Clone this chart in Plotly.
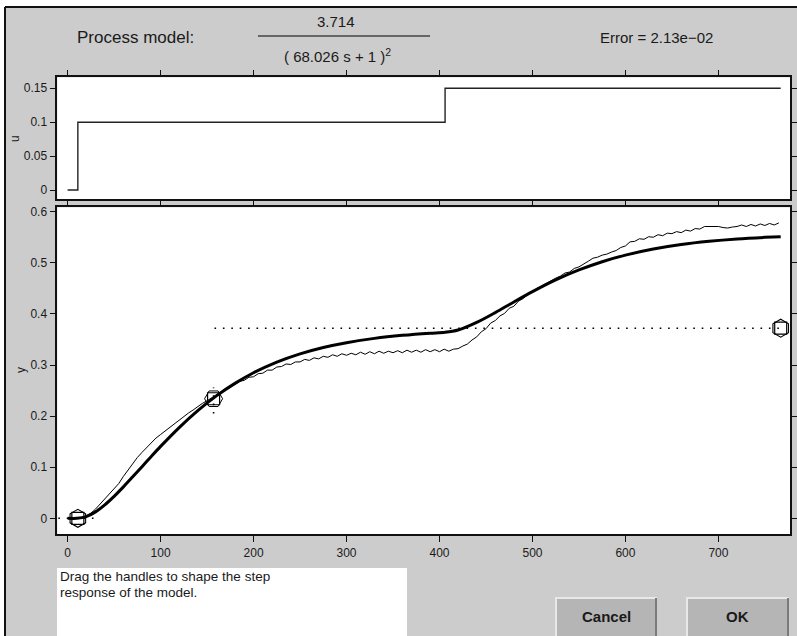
import plotly.graph_objects as go

# ---------------- data ----------------
u_t = [0, 11, 406, 767]
u_v = [0.0, 0.1, 0.15, 0.15]

model_t = [0, 10, 20, 30, 40, 50, 60, 70, 80, 90, 100, 120, 140, 160, 180, 200, 225, 250,
           275, 300, 330, 360, 390, 406, 420, 440, 460, 480, 500, 525, 550, 575, 600, 630,
           660, 690, 720, 750, 767]
model_y = [0, 0, 0.0033, 0.0126, 0.0263, 0.0429, 0.0615, 0.0811, 0.1011, 0.1211, 0.1407,
           0.1776, 0.2107, 0.2396, 0.2641, 0.2848, 0.3056, 0.3218, 0.3343, 0.3437, 0.3521,
           0.3580, 0.3622, 0.3639, 0.3684, 0.3833, 0.4026, 0.4234, 0.4436, 0.4666, 0.4860,
           0.5021, 0.5150, 0.5269, 0.5357, 0.5420, 0.5466, 0.5498, 0.5512]

meas_t = list(range(0, 770, 5))
meas_y = [
    0, 0, 0, 0.001, 0.005, 0.010, 0.018, 0.028, 0.037, 0.046,
    0.057, 0.068, 0.082, 0.095, 0.107, 0.119, 0.129, 0.139, 0.149, 0.157,
    0.164, 0.171, 0.179, 0.186, 0.193, 0.199, 0.206, 0.212, 0.219, 0.225,
    0.230, 0.236, 0.241, 0.247, 0.253, 0.258, 0.262, 0.268, 0.270, 0.276,
    0.277, 0.283, 0.284, 0.290, 0.290, 0.296, 0.297, 0.302, 0.301, 0.306,
    0.306, 0.311, 0.309, 0.314, 0.312, 0.317, 0.315, 0.320, 0.317, 0.322,
    0.319, 0.323, 0.320, 0.325, 0.321, 0.326, 0.322, 0.327, 0.323, 0.327,
    0.324, 0.328, 0.324, 0.329, 0.325, 0.329, 0.325, 0.330, 0.326, 0.330,
    0.326, 0.331, 0.327, 0.331, 0.332, 0.337, 0.341, 0.349, 0.355, 0.365,
    0.371, 0.382, 0.387, 0.396, 0.401, 0.411, 0.415, 0.425, 0.430, 0.438,
    0.443, 0.450, 0.455, 0.461, 0.465, 0.470, 0.474, 0.480, 0.482, 0.489,
    0.492, 0.497, 0.503, 0.509, 0.511, 0.515, 0.517, 0.521, 0.524, 0.530,
    0.533, 0.541, 0.542, 0.547, 0.546, 0.551, 0.550, 0.555, 0.553, 0.558,
    0.557, 0.561, 0.559, 0.564, 0.562, 0.567, 0.566, 0.571, 0.571, 0.572,
    0.571, 0.569, 0.568, 0.570, 0.571, 0.574, 0.571, 0.575, 0.572, 0.576,
    0.573, 0.577, 0.574, 0.578,
]

handle_t = [11, 157, 767]
handle_y = [0.0, 0.234, 0.372]
guide0_t, guide0_y = [-10, 35], [0.0, 0.0]
guide1_t, guide1_y = [157, 157], [0.205, 0.256]
guide2_t, guide2_y = [158, 767], [0.372, 0.372]

x_ticks = [0, 100, 200, 300, 400, 500, 600, 700]
u_ticks = [0, 0.05, 0.1, 0.15]
u_ticktext = ["0", "0.05", "0.1", "0.15"]
y_ticks = [0, 0.1, 0.2, 0.3, 0.4, 0.5, 0.6]
y_ticktext = ["0", "0.1", "0.2", "0.3", "0.4", "0.5", "0.6"]

# ---------------- layout helpers ----------------
W, H = 797, 636
def PX(x):
    return x / W
def PY(y):
    return 1 - y / H

FONT = "Liberation Sans, Arial, Helvetica, sans-serif"
TXT = "#1a1a1a"
BG = "#cccccc"

fig = go.Figure()

# top plot (u)
fig.add_trace(go.Scatter(x=u_t, y=u_v, mode="lines", line=dict(color="#222", width=1.4, shape="hv"),
                         xaxis="x", yaxis="y", showlegend=False, hoverinfo="skip"))

# bottom plot (y)
dotstyle = dict(color="black", width=1.6, dash="1.6px,6.8px")
for gt, gy in [(guide0_t, guide0_y), (guide1_t, guide1_y), (guide2_t, guide2_y)]:
    fig.add_trace(go.Scatter(x=gt, y=gy, mode="lines", line=dotstyle,
                             xaxis="x2", yaxis="y2", showlegend=False, hoverinfo="skip"))
fig.add_trace(go.Scatter(x=meas_t, y=meas_y, mode="lines", line=dict(color="black", width=1),
                         xaxis="x2", yaxis="y2", showlegend=False, hoverinfo="skip"))
fig.add_trace(go.Scatter(x=model_t, y=model_y, mode="lines",
                         line=dict(color="black", width=3, shape="spline", smoothing=0.8),
                         xaxis="x2", yaxis="y2", showlegend=False, hoverinfo="skip"))
fig.add_trace(go.Scatter(x=[handle_t[0], handle_t[2]], y=[handle_y[0], handle_y[2]], mode="markers",
                         marker=dict(symbol="hexagon-open", size=18, color="black", line=dict(width=1.1)),
                         xaxis="x2", yaxis="y2", showlegend=False, hoverinfo="skip"))
fig.add_trace(go.Scatter(x=[handle_t[1]], y=[handle_y[1]], mode="markers",
                         marker=dict(symbol="hexagon2-open", size=18, color="black", line=dict(width=1.0)),
                         xaxis="x2", yaxis="y2", showlegend=False, hoverinfo="skip"))
fig.add_trace(go.Scatter(x=handle_t, y=handle_y, mode="markers",
                         marker=dict(symbol="square-open", size=12, color="black", line=dict(width=1.2)),
                         xaxis="x2", yaxis="y2", showlegend=False, hoverinfo="skip"))

xrange = [-11.1, 777]
axis_common = dict(showline=True, linecolor="#111", linewidth=1.6, mirror="ticks",
                   ticks="outside", ticklen=6, tickwidth=1.4, tickcolor="#111",
                   showgrid=False, zeroline=False, automargin=False,
                   tickfont=dict(family=FONT, size=12, color=TXT))

xd = [PX(57.3), PX(790)]
fig.update_layout(
    width=W, height=H,
    margin=dict(l=0, r=0, t=0, b=0),
    paper_bgcolor=BG, plot_bgcolor="white",
    font=dict(family=FONT, color=TXT),
    xaxis=dict(domain=xd, range=xrange, tickvals=x_ticks, showticklabels=False,
               anchor="y", **axis_common),
    yaxis=dict(domain=[PY(199.3), PY(77.3)], range=[-0.0137, 0.1662], tickvals=u_ticks,
               ticktext=u_ticktext, anchor="x", **axis_common),
    xaxis2=dict(domain=xd, range=xrange, tickvals=x_ticks, anchor="y2", **axis_common),
    yaxis2=dict(domain=[PY(534.3), PY(207.3)], range=[-0.0313, 0.6086], tickvals=y_ticks,
                ticktext=y_ticktext, anchor="x2", **axis_common),
)

shapes = []
# white outer strip and black frame
shapes.append(dict(type="rect", xref="paper", yref="paper", x0=0, x1=1, y0=PY(7), y1=1,
                   fillcolor="white", line=dict(width=0)))
shapes.append(dict(type="rect", xref="paper", yref="paper", x0=0, x1=PX(5), y0=0, y1=1,
                   fillcolor="white", line=dict(width=0)))
shapes.append(dict(type="line", xref="paper", yref="paper", x0=PX(5), x1=1, y0=PY(7), y1=PY(7),
                   line=dict(color="#111", width=2)))
shapes.append(dict(type="line", xref="paper", yref="paper", x0=PX(5), x1=PX(5), y0=0, y1=PY(7),
                   line=dict(color="#111", width=2)))
# fraction bar
shapes.append(dict(type="line", xref="paper", yref="paper", x0=PX(258), x1=PX(430), y0=PY(36), y1=PY(36),
                   line=dict(color="black", width=1)))
# message box
shapes.append(dict(type="rect", xref="paper", yref="paper", x0=PX(57), x1=PX(407), y0=0, y1=PY(568),
                   fillcolor="white", line=dict(width=0)))
# buttons
for bx0, bx1 in [(555, 657), (686, 789)]:
    shapes.append(dict(type="rect", xref="paper", yref="paper", x0=PX(bx0), x1=PX(bx1), y0=0, y1=PY(597),
                       fillcolor="#b5b5b5", line=dict(width=0)))
    shapes.append(dict(type="line", xref="paper", yref="paper", x0=PX(bx0), x1=PX(bx1), y0=PY(598), y1=PY(598),
                       line=dict(color="#e8e8e8", width=2)))
    shapes.append(dict(type="line", xref="paper", yref="paper", x0=PX(bx0 + 1), x1=PX(bx0 + 1), y0=0, y1=PY(597),
                       line=dict(color="#e8e8e8", width=2)))
    shapes.append(dict(type="line", xref="paper", yref="paper", x0=PX(bx1 - 1), x1=PX(bx1 - 1), y0=0, y1=PY(598),
                       line=dict(color="#7a7a7a", width=2)))
fig.update_layout(shapes=shapes)

ann = []
def A(text, x, y, size, xanchor="left", yanchor="middle", bold=False, angle=0, align="left"):
    ann.append(dict(text=("<b>%s</b>" % text) if bold else text, xref="paper", yref="paper",
                    x=PX(x), y=PY(y), xanchor=xanchor, yanchor=yanchor, showarrow=False,
                    textangle=angle, align=align,
                    font=dict(family=FONT, size=size, color=TXT)))

A("Process model:", 75, 37, 17)
A("3.714", 336, 22, 15, xanchor="center")
A("( 68.026 s + 1 )<sup>2</sup>", 337, 55, 15, xanchor="center")
A("Error = 2.13e\u221202", 598, 37, 15)
A("u", 15, 138, 12, xanchor="center", angle=-90)
A("y", 21, 370, 12, xanchor="center", angle=-90)
A("Drag the handles to shape the step", 58, 576.5, 13.5)
A("response of the model.", 58, 592, 13.5)
A("Cancel", 606, 616, 15, xanchor="center", bold=True)
A("OK", 737, 616, 15, xanchor="center", bold=True)
fig.update_layout(annotations=ann)

fig.write_html("out.html", config={"displayModeBar": False},
               post_script="document.body.style.margin='0px';document.body.style.padding='0px';")
